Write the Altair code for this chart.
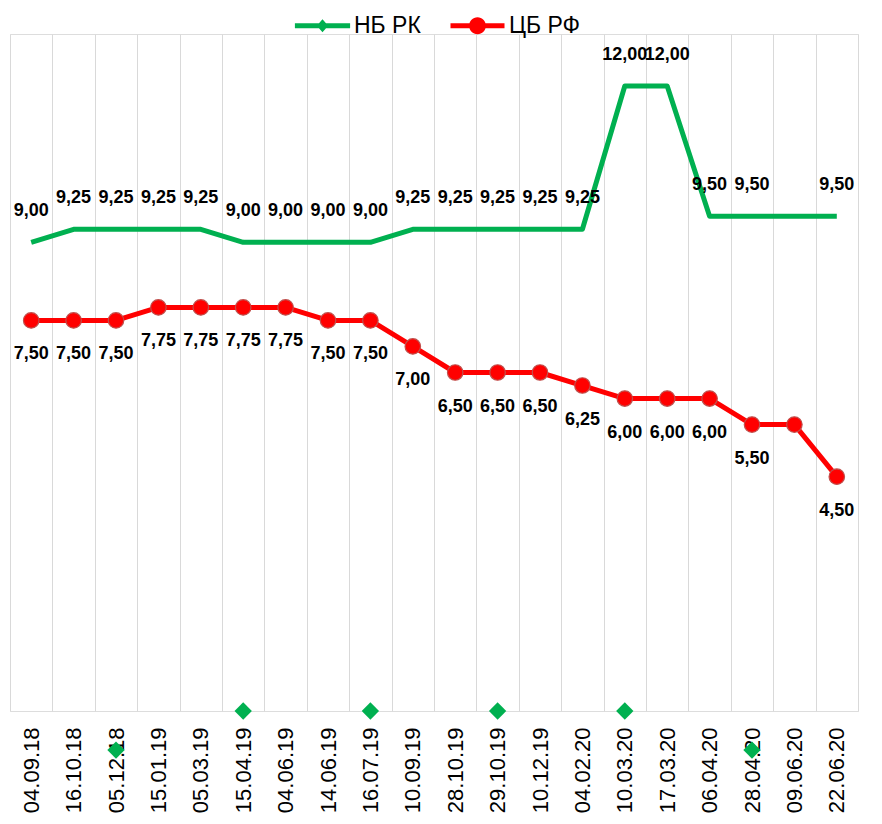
import altair as alt
import pandas as pd

dates = ["04.09.18", "16.10.18", "05.12.18", "15.01.19", "05.03.19", "15.04.19",
         "04.06.19", "14.06.19", "16.07.19", "10.09.19", "28.10.19", "29.10.19",
         "10.12.19", "04.02.20", "10.03.20", "17.03.20", "06.04.20", "28.04.20",
         "09.06.20", "22.06.20"]
nb_rk = [9.00, 9.25, 9.25, 9.25, 9.25, 9.00, 9.00, 9.00, 9.00, 9.25,
         9.25, 9.25, 9.25, 9.25, 12.00, 12.00, 9.50, 9.50, 9.50, 9.50]
cb_rf = [7.50, 7.50, 7.50, 7.75, 7.75, 7.75, 7.75, 7.50, 7.50, 7.00,
         6.50, 6.50, 6.50, 6.25, 6.00, 6.00, 6.00, 5.50, 5.50, 4.50]
series_names = ["НБ РК", "ЦБ РФ"]
series_colors = ["#00b050", "#ff0000"]
hidden_label_dates = ["09.06.20"]

# stray diamond markers visible in the original picture
stray_dates = ["05.12.18", "15.04.19", "16.07.19", "29.10.19", "10.03.20", "28.04.20"]
stray_vals = [-0.75, 0, 0, 0, 0, -0.75]

rows = []
for name, vals in zip(series_names, [nb_rk, cb_rf]):
    for d, v in zip(dates, vals):
        rows.append({"date": d, "series": name, "value": v,
                     "label": f"{v:.2f}".replace(".", ","),
                     "show": d not in hidden_label_dates})
df = pd.DataFrame(rows)
stray = pd.DataFrame({"date": stray_dates, "value": stray_vals})

FONT = "Liberation Sans"

x_enc = alt.X("date:N", sort=dates,
              scale=alt.Scale(type="band", domain=dates, paddingInner=0, paddingOuter=0),
              axis=alt.Axis(title=None, labelAngle=-90, labelFontSize=22, labelFont=FONT,
                            labelColor="#000000", labelPadding=16, domain=False, ticks=False,
                            grid=True, gridColor="#d9d9d9", gridWidth=1, tickBand="extent"))
y_enc = alt.Y("value:Q", scale=alt.Scale(domain=[0, 13], nice=False, zero=False), axis=None)

path_g = "M-4.6,-0.4H4.6V0.4H-4.6Z M0,-1.1L0.95,0L0,1.1L-0.95,0Z"
path_r = "M-4.5,-0.4H4.5V0.4H-4.5Z M-1.4,0A1.4,1.4 0 1,1 1.4,0A1.4,1.4 0 1,1 -1.4,0Z"

legend = alt.Legend(title=None, orient="none", legendX=301, legendY=-20,
                    direction="horizontal", labelFontSize=23, labelFont=FONT,
                    labelColor="#000000", symbolSize=144, labelOffset=20,
                    columnPadding=29, symbolStrokeWidth=0, symbolOpacity=1, padding=0)

base = alt.Chart(df)
green = base.transform_filter(alt.datum.series == series_names[0])
red = base.transform_filter(alt.datum.series == series_names[1])

green_line = green.mark_line(strokeWidth=5, strokeJoin="round", color=series_colors[0]).encode(
    x=x_enc, y=y_enc)
red_line = red.mark_line(strokeWidth=5, strokeJoin="round", color=series_colors[1]).encode(
    x=x_enc, y=y_enc)
red_points = red.mark_point(
    filled=True, size=240, opacity=1, fill=series_colors[1], stroke="#c0504d", strokeWidth=1.2
).encode(x=x_enc, y=y_enc)

green_labels = green.transform_filter(alt.datum.show).mark_text(
    dy=-31, fontSize=18, fontWeight="bold", font=FONT, color="#000000"
).encode(x=x_enc, y=y_enc, text="label:N")

red_labels = red.transform_filter(alt.datum.show).mark_text(
    dy=34, fontSize=18, fontWeight="bold", font=FONT, color="#000000"
).encode(x=x_enc, y=y_enc, text="label:N")

stray_pts = alt.Chart(stray).mark_point(
    shape="diamond", filled=True, size=300, opacity=1, color=series_colors[0]
).encode(x=x_enc, y=y_enc)

legend_layer = base.transform_filter(alt.datum.value < -100).mark_point(
    filled=True, opacity=1
).encode(
    x=x_enc, y=y_enc,
    color=alt.Color("series:N", scale=alt.Scale(domain=series_names, range=series_colors),
                    legend=legend),
    shape=alt.Shape("series:N", scale=alt.Scale(domain=series_names, range=[path_g, path_r]),
                    legend=legend),
)

chart = alt.layer(green_line, red_line, red_points, green_labels, red_labels,
                  stray_pts, legend_layer).properties(
    width=848, height=677,
    autosize=alt.AutoSizeParams(type="none"),
    padding={"left": 2, "top": 26, "right": 16, "bottom": 102},
).configure_view(stroke=None).configure(background="#ffffff")

chart.save("out.html", embed_options={"renderer": "svg", "actions": False})
